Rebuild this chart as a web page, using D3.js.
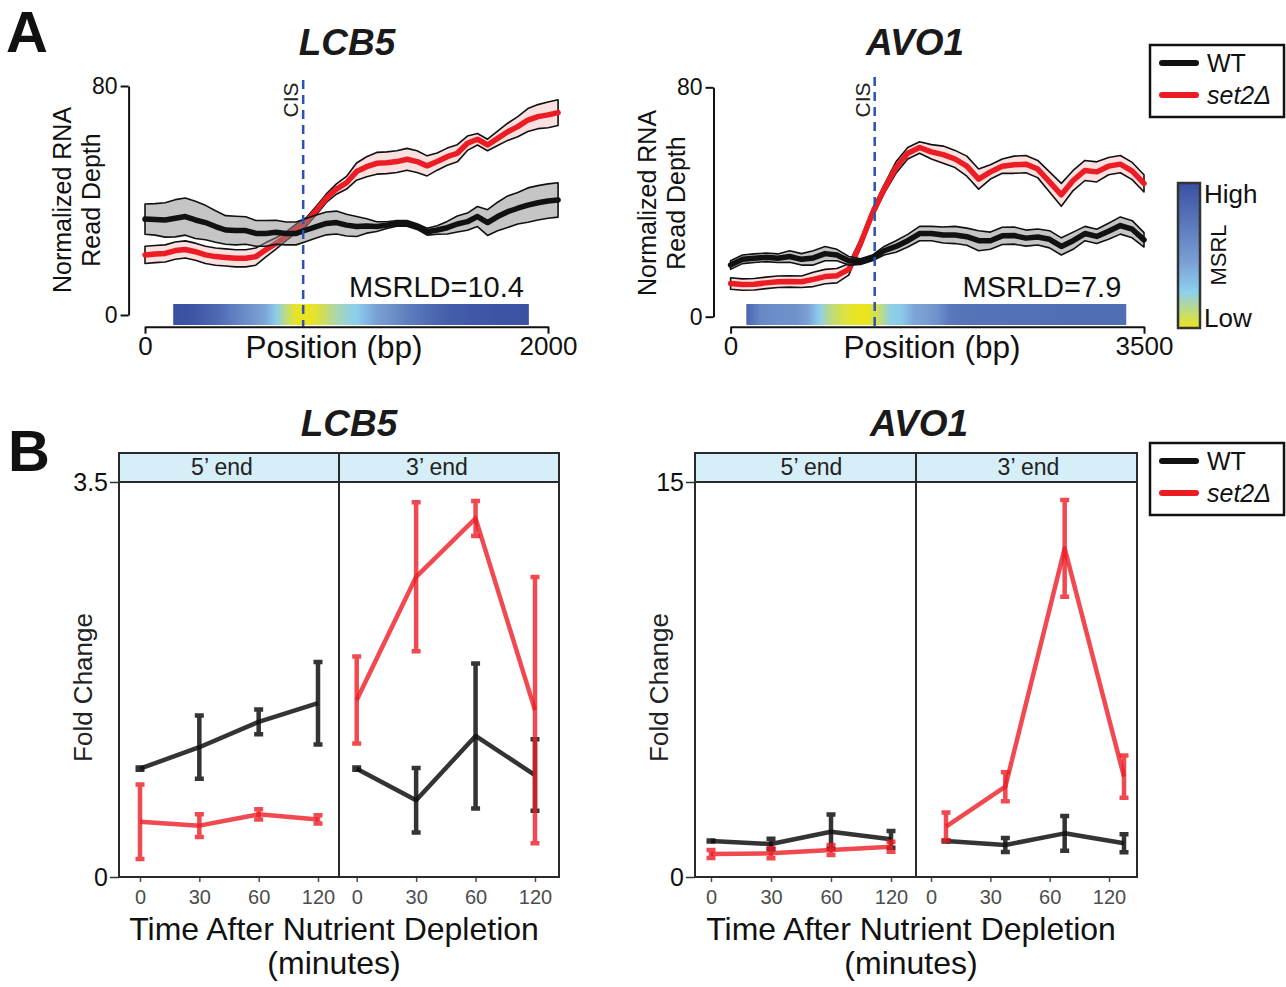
<!DOCTYPE html>
<html>
<head>
<meta charset="utf-8">
<title>LCB5 / AVO1 read depth and fold change</title>
<script src="https://cdn.jsdelivr.net/npm/d3@7"></script>
<style>
  body { margin: 0; background: #fff; }
  svg text { font-family: "Liberation Sans", Arial, Helvetica, sans-serif; }
</style>
</head>
<body>
<div id="figure"></div>
<script>
// ---------- Panel A data: normalized RNA read depth (mean and band half-width) ----------
var lcbStep = 50; // bp between samples
var lcbWT = [33.5,33.4,33.2,33.8,34.4,33.2,32.3,30.9,29.7,29.5,29.5,28.5,28.5,28.9,28.5,28.5,29.7,30.9,32.0,32.3,
             31.4,30.9,31.1,30.9,31.4,32.0,32.0,30.9,29.1,29.7,30.5,31.8,32.6,34.4,32.3,34.4,36.1,37.3,38.4,39.2,39.8,40.2];
var lcbWTsd = [5.3,5.5,6,6.5,6.5,6.5,6,5.5,5,5,4.8,4.5,4.5,4.2,4,4,4,4,4,4,
               3.8,3.5,2.5,1.7,1.2,1,1,1,1.2,1.5,2.2,2.8,3,3.5,4.5,5,5.5,5.5,6,6,6,6];
var lcbSet2 = [21.0,21.3,21.5,22.5,22.9,22.1,21.0,20.4,20.1,19.8,19.8,20.4,22.8,25.0,27.5,30.2,32.5,36.5,40.8,44.0,
               46.2,50.1,51.8,53.0,53.2,53.6,54.4,53.6,52.1,53.6,55.3,56.5,60.0,61.4,59.4,61.7,64.0,65.8,68.1,69.3,69.9,70.7];
var lcbSet2sd = [3,3,3,3,3,3,3,3,3,3,3,3,2.5,2,1.5,1.5,1.5,1.5,1.5,1.8,
                 2.2,3,3.5,3.8,3.8,3.8,3.8,3.8,3.5,3,3,3,2.5,2,2,2.5,3,3.5,4,4.2,4.5,4.5];

var avoStep = 100;
var avoWT = [18.0,20.0,20.4,20.7,20.4,21.0,20.0,20.5,22.0,21.5,19.5,19.2,20.5,23.0,24.5,26.5,29.0,29.0,
             28.5,28.5,27.9,26.5,26.5,28.2,28.3,27.4,27.8,27.0,24.5,26.5,29.0,28.0,29.8,31.8,30.5,26.8];
var avoWTsd = [1.5,1.5,1.5,1.5,1.5,2,2,2.5,2.5,2,1.5,1,1,1.5,2,2.2,2.5,2.5,
               2.8,3,3,3.5,3,3,3,2.8,2.8,3,3,3,2.5,2.5,2.8,3,3,2.5];
var avoSet2 = [11.6,11.2,11.3,11.8,12.2,12.3,12.2,13.0,14.0,14.3,16.5,25.5,36.0,44.5,52.0,57.0,59.0,57.5,
               56.5,55.0,52.5,48.0,50.5,52.5,53.0,53.2,51.5,47.0,42.5,47.5,51.0,50.5,52.5,53.2,50.8,46.5];
var avoSet2sd = [2,2,2,2,2,2,2,2.5,2.5,2.5,2,1.5,1.5,1.5,2,2,2,2.5,
                 3,3,3.5,3.5,2.5,2.5,3,3,3,3.5,4,3.5,3.5,3.5,3,3,3,3];

// MSRL along the gene (0 = low, 1 = high)
var lcbMsrlStart = 150, lcbMsrlStep = 50;
var lcbMsrl = [1.0,0.98,0.95,0.9,0.84,0.76,0.66,0.58,0.5,0.42,0.26,0.12,0.01,0.0,0.03,0.1,0.17,0.22,
               0.26,0.35,0.45,0.52,0.6,0.68,0.74,0.8,0.85,0.9,0.92,0.94,0.95,0.96,0.97,0.98,0.98,0.99];
var avoMsrlStart = 150, avoMsrlStep = 100;
var avoMsrl = [0.82,0.62,0.58,0.56,0.55,0.45,0.26,0.12,0.05,0.01,0.0,0.08,0.24,0.27,0.42,0.47,0.55,
               0.72,0.75,0.76,0.77,0.77,0.78,0.78,0.78,0.79,0.79,0.8,0.8,0.8,0.8,0.8,0.8];
var lcbBar = [140, 1905], avoBar = [133, 3350];
var lcbCis = 785, avoCis = 1220;
var lcbMsrld = "MSRLD=10.4", avoMsrld = "MSRLD=7.9";

// ---------- Panel B data: fold change after nutrient depletion ----------
var foldTimes = ["0", "30", "60", "120"];
var lcbWT5 = [0.96, 1.15, 1.375, 1.54],   lcbWT5err = [0.01, 0.28, 0.11, 0.365];
var lcbSet5 = [0.49, 0.455, 0.555, 0.51], lcbSet5err = [0.33, 0.1, 0.045, 0.037];
var lcbWT3 = [0.96, 0.68, 1.25, 0.903],   lcbWT3err = [0.01, 0.285, 0.642, 0.317];
var lcbSet3 = [1.568, 2.66, 3.177, 1.479], lcbSet3err = [0.386, 0.66, 0.155, 1.18];
var avoWT5 = [1.367, 1.253, 1.72, 1.43],  avoWT5err = [0.02, 0.2, 0.65, 0.32];
var avoSet5 = [0.873, 0.9, 1.025, 1.15],  avoSet5err = [0.15, 0.19, 0.19, 0.19];
var avoWT3 = [1.367, 1.215, 1.658, 1.28], avoWT3err = [0.02, 0.27, 0.66, 0.34];
var avoSet3 = [1.91, 3.43, 12.48, 3.81],  avoSet3err = [0.535, 0.55, 1.84, 0.8];

var red = "#ec1c24", black = "#111111";

var svg = d3.select("#figure").append("svg")
  .attr("width", 1286).attr("height", 987)
  .style("display", "block");
var defs = svg.append("defs");

var msrlColor = d3.scaleLinear()
  .domain([0, 0.25, 0.45, 1])
  .range(["#ece51c", "#8dcfee", "#7aa0d4", "#3a50a2"]);

function styleAxis(a, size, color) {
  a.selectAll("path, line").attr("stroke", color).attr("stroke-width", 2);
  a.selectAll("text").attr("font-size", size).attr("fill", color);
}

// read depth profile panel
function drawProfile(lay, d) {
  var x = d3.scaleLinear().domain([0, lay.xMax]).range(lay.xRange);
  var y = d3.scaleLinear().domain([0, 80]).range(lay.yRange);
  var g = svg.append("g");

  // MSRL heat bar
  var last = d.msrlStart + d.msrlStep * (d.msrl.length - 1);
  var grad = defs.append("linearGradient").attr("id", "msrl-" + lay.id)
    .attr("gradientUnits", "userSpaceOnUse")
    .attr("x1", x(d.msrlStart)).attr("x2", x(last)).attr("y1", 0).attr("y2", 0);
  grad.selectAll("stop").data(d.msrl).enter().append("stop")
    .attr("offset", function(v, i) { return i / (d.msrl.length - 1); })
    .attr("stop-color", function(v) { return msrlColor(v); });
  g.append("rect")
    .attr("x", x(d.bar[0])).attr("width", x(d.bar[1]) - x(d.bar[0]))
    .attr("y", lay.barTop).attr("height", lay.barBottom - lay.barTop)
    .attr("fill", "url(#msrl-" + lay.id + ")");

  function series(mean, sd, col, fill, op) {
    var pts = mean.map(function(m, i) { return { pos: i * d.step, m: m, s: sd[i] }; });
    g.append("path").datum(pts)
      .attr("d", d3.area().x(function(p) { return x(p.pos); })
        .y0(function(p) { return y(p.m - p.s); })
        .y1(function(p) { return y(p.m + p.s); }))
      .attr("fill", fill).attr("fill-opacity", op)
      .attr("stroke", "#111").attr("stroke-width", 1.6).attr("stroke-linejoin", "round");
    g.append("path").datum(pts)
      .attr("d", d3.line().x(function(p) { return x(p.pos); }).y(function(p) { return y(p.m); }))
      .attr("fill", "none").attr("stroke", col).attr("stroke-width", 5.5)
      .attr("stroke-linejoin", "round").attr("stroke-linecap", "round");
  }
  series(d.set2, d.set2sd, red, "#f4a0a0", 0.32);
  series(d.wt, d.wtsd, black, "#8c8c8c", 0.5);

  // CIS marker
  g.append("line")
    .attr("x1", x(d.cis)).attr("x2", x(d.cis))
    .attr("y1", lay.cisTop).attr("y2", lay.xAxisY)
    .attr("stroke", "#2d52b3").attr("stroke-width", 2.5).attr("stroke-dasharray", "9,6");
  g.append("text")
    .attr("transform", "translate(" + (x(d.cis) - 5) + ",100) rotate(-90)")
    .attr("text-anchor", "middle").attr("font-size", 21).attr("fill", "#222")
    .text("CIS");

  g.append("text")
    .attr("x", x(d.bar[1]) - 5).attr("y", 297)
    .attr("text-anchor", "end").attr("font-size", 29).attr("fill", "#111")
    .text(d.msrld);

  // axes
  var yAxis = g.append("g").attr("transform", "translate(" + lay.yAxisX + ",0)")
    .call(d3.axisLeft(y).tickValues([0, 80]).tickSize(8).tickSizeOuter(0).tickPadding(3)
      .tickFormat(function(v) { return String(v); }));
  styleAxis(yAxis, 23, "#111");
  var xAxis = g.append("g").attr("transform", "translate(0," + lay.xAxisY + ")")
    .call(d3.axisBottom(x).tickValues([0, lay.xMax]).tickSize(7).tickSizeOuter(0).tickPadding(3)
      .tickFormat(function(v) { return String(v); }));
  styleAxis(xAxis, 26, "#111");

  g.append("text")
    .attr("x", lay.posLabelX).attr("y", 358)
    .attr("text-anchor", "middle").attr("font-size", 31.5).attr("fill", "#111")
    .text("Position (bp)");

  var yl = g.append("text")
    .attr("transform", "translate(" + (lay.yAxisX - 58) + "," + lay.yLabelY + ") rotate(-90)")
    .attr("text-anchor", "middle").attr("font-size", 25).attr("fill", "#111");
  yl.append("tspan").attr("x", 0).attr("y", 0).text("Normalized RNA");
  yl.append("tspan").attr("x", 0).attr("y", 29).text("Read Depth");

  g.append("text")
    .attr("x", lay.titleX).attr("y", 55)
    .attr("text-anchor", "middle").attr("font-size", 37)
    .attr("font-weight", "bold").attr("font-style", "italic").attr("fill", "#1a1a1a")
    .text(lay.title);
}

// fold change panel with two facets
function drawFold(lay, facets) {
  var y = d3.scaleLinear().domain([0, lay.yMax]).range([lay.bottom, lay.top]);
  var g = svg.append("g");

  g.append("text")
    .attr("x", lay.titleX).attr("y", 436)
    .attr("text-anchor", "middle").attr("font-size", 37)
    .attr("font-weight", "bold").attr("font-style", "italic").attr("fill", "#1a1a1a")
    .text(lay.title);

  facets.forEach(function(f, fi) {
    var box = lay.facets[fi];
    var x = d3.scalePoint().domain(foldTimes).range([box.t0, box.t1]);

    g.append("rect")
      .attr("x", box.x0).attr("y", lay.stripTop)
      .attr("width", box.x1 - box.x0).attr("height", lay.top - lay.stripTop)
      .attr("fill", "#d6eef8").attr("stroke", "#2a2a2a").attr("stroke-width", 2);
    g.append("text")
      .attr("x", (box.x0 + box.x1) / 2 + box.labelShift).attr("y", lay.top - 7)
      .attr("text-anchor", "middle").attr("font-size", 23).attr("fill", "#222")
      .text(f.label);

    var xAxis = g.append("g").attr("transform", "translate(0," + lay.bottom + ")")
      .call(d3.axisBottom(x).tickSize(5).tickPadding(8));
    xAxis.select(".domain").remove();
    styleAxis(xAxis, 20, "#4d4d4d");
    xAxis.selectAll("line").attr("stroke-width", 1.5);

    f.series.forEach(function(s) {
      var pts = s.mean.map(function(m, i) { return { t: foldTimes[i], m: m, e: s.err[i] }; });
      var px = function(p) { return x(p.t) + box.shift; };
      var sg = g.append("g").attr("stroke", s.color).attr("stroke-opacity", s.op).attr("fill", "none");
      sg.append("path").datum(pts)
        .attr("d", d3.line().x(px).y(function(p) { return y(p.m); }))
        .attr("stroke-width", 4.5).attr("stroke-linejoin", "round");
      sg.selectAll(".bar").data(pts).enter().append("path")
        .attr("d", function(p) {
          var cx = px(p), lo = y(p.m - p.e), hi = y(p.m + p.e);
          return "M" + cx + "," + lo + "V" + hi +
                 "M" + (cx - 4.5) + "," + hi + "H" + (cx + 4.5) +
                 "M" + (cx - 4.5) + "," + lo + "H" + (cx + 4.5);
        })
        .attr("stroke-width", 4.5);
    });

    g.append("rect")
      .attr("x", box.x0).attr("y", lay.top)
      .attr("width", box.x1 - box.x0).attr("height", lay.bottom - lay.top)
      .attr("fill", "none").attr("stroke", "#2a2a2a").attr("stroke-width", 2);
  });

  var left = lay.facets[0].x0, right = lay.facets[1].x1;
  var yAxis = g.append("g").attr("transform", "translate(" + left + ",0)")
    .call(d3.axisLeft(y).tickValues([0, lay.yMax]).tickSize(9).tickPadding(2)
      .tickFormat(function(v) { return String(v); }));
  yAxis.select(".domain").remove();
  styleAxis(yAxis, 25, "#111");
  yAxis.selectAll("line").attr("stroke", "#333").attr("stroke-width", 1.5);

  g.append("text")
    .attr("transform", "translate(" + (left - 27) + "," + ((lay.top + lay.bottom) / 2 + 8) + ") rotate(-90)")
    .attr("text-anchor", "middle").attr("font-size", 26).attr("fill", "#222")
    .text("Fold Change");

  var cx = (left + right) / 2 - 5;
  g.append("text").attr("x", cx).attr("y", 940)
    .attr("text-anchor", "middle").attr("font-size", 32).attr("fill", "#111")
    .text("Time After Nutrient Depletion");
  g.append("text").attr("x", cx).attr("y", 974)
    .attr("text-anchor", "middle").attr("font-size", 32).attr("fill", "#111")
    .text("(minutes)");
}

function drawLegend(x0, y0) {
  var g = svg.append("g").attr("transform", "translate(" + x0 + "," + y0 + ")");
  g.append("rect").attr("width", 134).attr("height", 72)
    .attr("fill", "#fff").attr("stroke", "#111").attr("stroke-width", 2.5);
  var items = [{ label: "WT", color: black, italic: false }, { label: "set2\u0394", color: red, italic: true }];
  items.forEach(function(it, i) {
    var yy = 18 + i * 32;
    g.append("line").attr("x1", 12).attr("x2", 46).attr("y1", yy).attr("y2", yy)
      .attr("stroke", it.color).attr("stroke-width", 6).attr("stroke-linecap", "round");
    g.append("text").attr("x", 57).attr("y", yy + 9)
      .attr("font-size", 25).attr("fill", "#111")
      .attr("font-style", it.italic ? "italic" : "normal")
      .text(it.label);
  });
}

// ----- panel A -----
svg.append("text").attr("x", 6).attr("y", 52)
  .attr("font-size", 58).attr("font-weight", "bold").attr("fill", "#111").text("A");

drawProfile(
  { id: "lcb", title: "LCB5", titleX: 347, xMax: 2000, xRange: [145, 548], yRange: [315, 86],
    yAxisX: 128.6, xAxisY: 326.7, barTop: 304, barBottom: 325, cisTop: 80, yLabelY: 200, posLabelX: 334 },
  { step: lcbStep, wt: lcbWT, wtsd: lcbWTsd, set2: lcbSet2, set2sd: lcbSet2sd,
    msrl: lcbMsrl, msrlStart: lcbMsrlStart, msrlStep: lcbMsrlStep, bar: lcbBar, cis: lcbCis, msrld: lcbMsrld });

drawProfile(
  { id: "avo", title: "AVO1", titleX: 915, xMax: 3500, xRange: [730.6, 1144], yRange: [316.7, 87.3],
    yAxisX: 713.5, xAxisY: 326.7, barTop: 304, barBottom: 325, cisTop: 77, yLabelY: 203, posLabelX: 932 },
  { step: avoStep, wt: avoWT, wtsd: avoWTsd, set2: avoSet2, set2sd: avoSet2sd,
    msrl: avoMsrl, msrlStart: avoMsrlStart, msrlStep: avoMsrlStep, bar: avoBar, cis: avoCis, msrld: avoMsrld });

drawLegend(1150, 45);

// MSRL colour key
var keyGrad = defs.append("linearGradient").attr("id", "msrl-key")
  .attr("x1", 0).attr("y1", 1).attr("x2", 0).attr("y2", 0);
keyGrad.selectAll("stop").data([0, 0.08, 0.16, 0.25, 0.35, 0.45, 0.6, 0.8, 1]).enter().append("stop")
  .attr("offset", function(v) { return v; })
  .attr("stop-color", function(v) { return msrlColor(v); });
svg.append("rect").attr("x", 1178).attr("y", 183).attr("width", 22).attr("height", 145)
  .attr("fill", "url(#msrl-key)").attr("stroke", "#333").attr("stroke-width", 2.5);
svg.append("text").attr("x", 1204).attr("y", 203).attr("font-size", 26).attr("fill", "#111").text("High");
svg.append("text").attr("x", 1204).attr("y", 327).attr("font-size", 26).attr("fill", "#111").text("Low");
svg.append("text").attr("transform", "translate(1226,255) rotate(-90)")
  .attr("text-anchor", "middle").attr("font-size", 22).attr("fill", "#111").text("MSRL");

// ----- panel B -----
svg.append("text").attr("x", 8).attr("y", 471)
  .attr("font-size", 58).attr("font-weight", "bold").attr("fill", "#111").text("B");

drawFold(
  { title: "LCB5", titleX: 349, yMax: 3.5, top: 482, bottom: 877, stripTop: 453,
    facets: [{ x0: 119, x1: 339, t0: 140, t1: 318, shift: 0, labelShift: -7 },
             { x0: 339, x1: 559, t0: 356.7, t1: 535, shift: 0, labelShift: -12 }] },
  [{ label: "5\u2019 end", series: [
      { mean: lcbWT5, err: lcbWT5err, color: black, op: 0.85 },
      { mean: lcbSet5, err: lcbSet5err, color: red, op: 0.8 }] },
   { label: "3\u2019 end", series: [
      { mean: lcbWT3, err: lcbWT3err, color: black, op: 0.85 },
      { mean: lcbSet3, err: lcbSet3err, color: red, op: 0.8 }] }]);

drawFold(
  { title: "AVO1", titleX: 919, yMax: 15, top: 482, bottom: 877, stripTop: 453,
    facets: [{ x0: 695, x1: 916, t0: 711, t1: 891, shift: 0, labelShift: 6 },
             { x0: 916, x1: 1137, t0: 931, t1: 1109, shift: 15, labelShift: 2 }] },
  [{ label: "5\u2019 end", series: [
      { mean: avoWT5, err: avoWT5err, color: black, op: 0.85 },
      { mean: avoSet5, err: avoSet5err, color: red, op: 0.8 }] },
   { label: "3\u2019 end", series: [
      { mean: avoWT3, err: avoWT3err, color: black, op: 0.85 },
      { mean: avoSet3, err: avoSet3err, color: red, op: 0.8 }] }]);

drawLegend(1150, 443);
</script>
</body>
</html>
